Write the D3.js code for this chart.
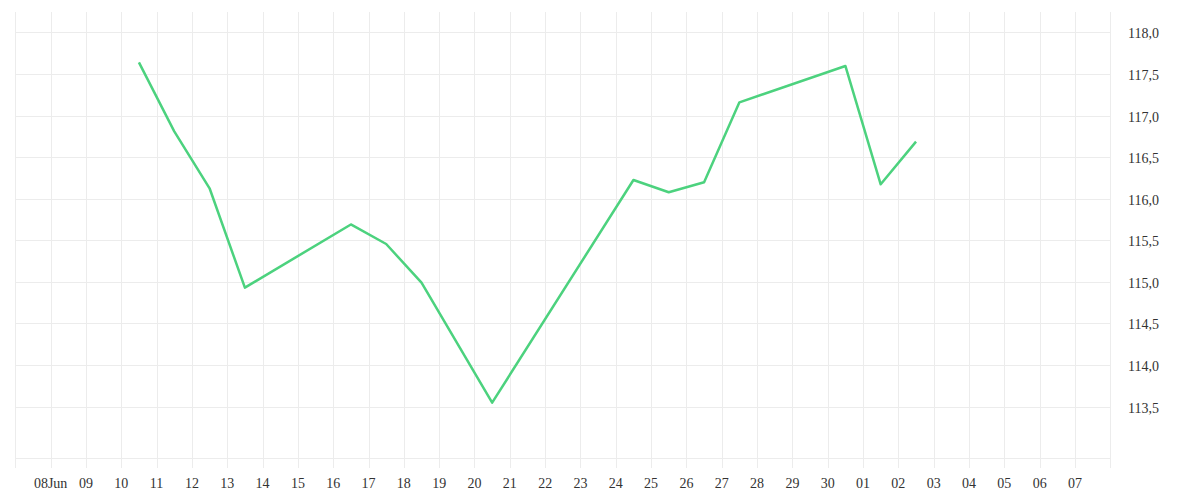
<!DOCTYPE html>
<html>
<head>
<meta charset="utf-8">
<script src="https://cdn.jsdelivr.net/npm/d3@7"></script>
<style>
  html, body { margin: 0; padding: 0; background: #fff; }
  svg text { font-family: "Liberation Serif", "DejaVu Serif", serif; font-size: 14px; fill: #333; }
</style>
</head>
<body>
<svg id="chart" width="1200" height="500"></svg>
<script>
// Data (trading days, plotted at mid-day)
const dates = ["2025-06-10","2025-06-11","2025-06-12","2025-06-13","2025-06-16","2025-06-17","2025-06-18","2025-06-20","2025-06-24","2025-06-25","2025-06-26","2025-06-27","2025-06-30","2025-07-01","2025-07-02"];
const values = [117.64,116.81,116.125,114.93,115.69,115.455,114.99,113.547,116.225,116.077,116.197,117.159,117.596,116.173,116.686];
const yTicks = [113.5,114.0,114.5,115.0,115.5,116.0,116.5,117.0,117.5,118.0];
const xStart = "2025-06-07", xEnd = "2025-07-08";

(function () {
const svg = d3.select("#chart");
const mLeft = 15.3, mRight = 1110.3, mTop = 12, mBottom = 458.3;
const parse = d3.utcParse("%Y-%m-%d");

const x = d3.scaleUtc().domain([parse(xStart), parse(xEnd)]).range([mLeft, mRight]);
const y = d3.scaleLinear().domain([112.878, 118.245]).range([mBottom, mTop]);

const gridColor = "#ececec";
const days = d3.utcDay.range(parse(xStart), d3.utcDay.offset(parse(xEnd), 1));

// horizontal grid
svg.append("g").selectAll("line").data(yTicks).join("line")
  .attr("x1", mLeft).attr("x2", mRight)
  .attr("y1", d => Math.round(y(d)) + 0.5).attr("y2", d => Math.round(y(d)) + 0.5)
  .attr("stroke", gridColor).attr("stroke-width", 1);
svg.append("line").attr("x1", mLeft).attr("x2", mRight)
  .attr("y1", Math.round(mBottom) + 0.5).attr("y2", Math.round(mBottom) + 0.5)
  .attr("stroke", gridColor);

// vertical grid (daily) extending as ticks below plot
svg.append("g").selectAll("line").data(days).join("line")
  .attr("x1", d => Math.round(x(d)) + 0.5).attr("x2", d => Math.round(x(d)) + 0.5)
  .attr("y1", mTop).attr("y2", 468)
  .attr("stroke", gridColor).attr("stroke-width", 1);

// x labels
const fmt = d => {
  const day = d3.utcFormat("%d")(d);
  return (d.getUTCDate() === 8 && d.getUTCMonth() === 5) ? day + "Jun" : day;
};
const labelDays = days.slice(1, -1);
svg.append("g").selectAll("text").data(labelDays).join("text")
  .attr("x", d => x(d)).attr("y", 488)
  .attr("text-anchor", "middle")
  .text(fmt);

// y axis labels (right)
svg.append("g").selectAll("text").data(yTicks).join("text")
  .attr("x", 1128).attr("y", d => y(d) + 6)
  .attr("text-anchor", "start")
  .text(d => d.toFixed(1).replace(".", ","));

// line
const pts = dates.map((d, i) => ({ t: d3.utcHour.offset(parse(d), 12), v: values[i] }));
svg.append("path").datum(pts)
  .attr("fill", "none")
  .attr("stroke", "#4cd27e")
  .attr("stroke-width", 2.5)
  .attr("stroke-linejoin", "round")
  .attr("d", d3.line().x(d => x(d.t)).y(d => y(d.v)));
})();
</script>
</body>
</html>
